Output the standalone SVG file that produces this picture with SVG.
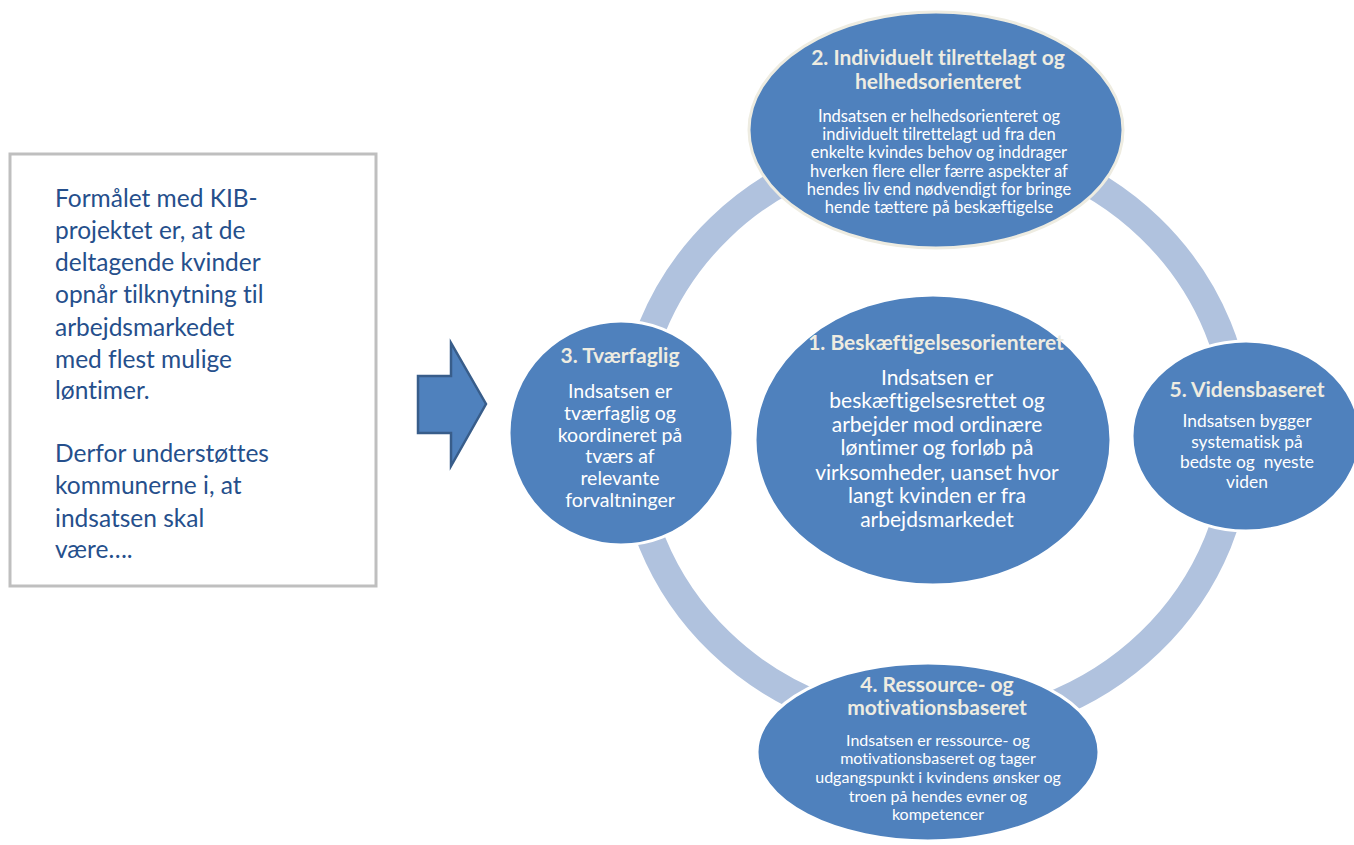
<svg xmlns="http://www.w3.org/2000/svg" width="1354" height="845" viewBox="0 0 1354 845">
<style>
text{font-variant-ligatures:none;font-family:Lato,"Liberation Sans",sans-serif}
.node{fill:#4F81BD;stroke:#FFFFFF;stroke-width:3}
.t{font-weight:bold;fill:#EEECE1;text-anchor:middle;font-size:21px}
.b{fill:#FFFFFF;text-anchor:middle}
.lt{fill:#254F8C;font-size:24.5px}
</style>
<rect width="1354" height="845" fill="#FFFFFF"/>
<g id="intro">
<rect x="10" y="154" width="366" height="432" fill="#FFFFFF" stroke="#BFBFBF" stroke-width="3"/>
<text class="lt" x="55" y="207">Formålet med KIB-</text>
<text class="lt" x="55" y="239">projektet er, at de</text>
<text class="lt" x="55" y="271">deltagende kvinder</text>
<text class="lt" x="55" y="303">opnår tilknytning til</text>
<text class="lt" x="55" y="336">arbejdsmarkedet</text>
<text class="lt" x="55" y="368">med flest mulige</text>
<text class="lt" x="55" y="399">løntimer.</text>
<text class="lt" x="55" y="462">Derfor understøttes</text>
<text class="lt" x="55" y="494">kommunerne i, at</text>
<text class="lt" x="55" y="527">indsatsen skal</text>
<text class="lt" x="55" y="558">være….</text>
</g>
<g id="arrow">
<polygon points="418,376 451,376 451,343 486,404 451,466 451,433 418,433" fill="#4F81BD" stroke="#385D8A" stroke-width="2.5" stroke-linejoin="miter"/>
</g>
<g id="connectors">
<ellipse cx="935" cy="435" rx="304" ry="293" fill="none" stroke="#B0C2DE" stroke-width="28"/>
</g>
<g id="node2">
<ellipse class="node" cx="936" cy="130" rx="187" ry="118" style="stroke:#EEECE1"/>
<text class="t" x="938" y="65">2. Individuelt tilrettelagt og</text>
<text class="t" x="938" y="89">helhedsorienteret</text>
<text class="b" x="939" y="122" font-size="16.5">Indsatsen er helhedsorienteret og</text>
<text class="b" x="939" y="140" font-size="16.5">individuelt tilrettelagt ud fra den</text>
<text class="b" x="939" y="158" font-size="16.5">enkelte kvindes behov og inddrager</text>
<text class="b" x="939" y="177" font-size="16.5">hverken flere eller færre aspekter af</text>
<text class="b" x="939" y="195" font-size="16.5">hendes liv end nødvendigt for bringe</text>
<text class="b" x="939" y="213" font-size="16.5">hende tættere på beskæftigelse</text>
</g>
<g id="node3">
<ellipse class="node" cx="621" cy="433" rx="112" ry="112"/>
<text class="t" x="620" y="363">3. Tværfaglig</text>
<text class="b" x="620" y="398" font-size="19.5">Indsatsen er</text>
<text class="b" x="620" y="420" font-size="19.5">tværfaglig og</text>
<text class="b" x="620" y="442" font-size="19.5">koordineret på</text>
<text class="b" x="620" y="463" font-size="19.5">tværs af</text>
<text class="b" x="620" y="485" font-size="19.5">relevante</text>
<text class="b" x="620" y="507" font-size="19.5">forvaltninger</text>
</g>
<g id="node1">
<ellipse class="node" cx="933" cy="440" rx="178" ry="145"/>
<text class="t" x="936" y="350">1. Beskæftigelsesorienteret</text>
<text class="b" x="937" y="385" font-size="21">Indsatsen er</text>
<text class="b" x="937" y="408" font-size="21">beskæftigelsesrettet og</text>
<text class="b" x="937" y="432" font-size="21">arbejder mod ordinære</text>
<text class="b" x="937" y="455" font-size="21">løntimer og forløb på</text>
<text class="b" x="937" y="480" font-size="21">virksomheder, uanset hvor</text>
<text class="b" x="937" y="503" font-size="21">langt kvinden er fra</text>
<text class="b" x="937" y="527" font-size="21">arbejdsmarkedet</text>
</g>
<g id="node5">
<ellipse class="node" cx="1246" cy="436" rx="114" ry="95"/>
<text class="t" x="1247" y="397">5. Vidensbaseret</text>
<text class="b" x="1247" y="427" font-size="17.4">Indsatsen bygger</text>
<text class="b" x="1247" y="448" font-size="17.4">systematisk på</text>
<text class="b" x="1247" y="468" font-size="17.4" xml:space="preserve">bedste og  nyeste</text>
<text class="b" x="1247" y="488" font-size="17.4">viden</text>
</g>
<g id="node4">
<ellipse class="node" cx="928" cy="752" rx="171" ry="89"/>
<text class="t" x="937" y="692">4. Ressource- og</text>
<text class="t" x="937" y="715">motivationsbaseret</text>
<text class="b" x="938" y="746" font-size="16">Indsatsen er ressource- og</text>
<text class="b" x="938" y="764" font-size="16">motivationsbaseret og tager</text>
<text class="b" x="938" y="783" font-size="16">udgangspunkt i kvindens ønsker og</text>
<text class="b" x="938" y="802" font-size="16">troen på hendes evner og</text>
<text class="b" x="938" y="820" font-size="16">kompetencer</text>
</g>
</svg>
